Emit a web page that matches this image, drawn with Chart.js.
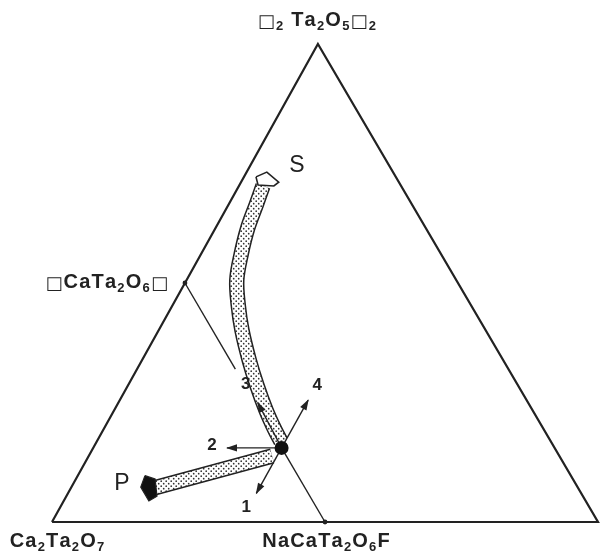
<!DOCTYPE html>
<html>
<head>
<meta charset="utf-8">
<script src="https://cdn.jsdelivr.net/npm/chart.js@4.4.0/dist/chart.umd.min.js"></script>
<style>
  html, body { margin: 0; padding: 0; background: #fff; overflow: hidden; }
  canvas { display: block; }
</style>
</head>
<body>
<canvas id="chart" width="600" height="554"></canvas>
<script>
// compositions are [Ca2Ta2O7, (right corner), □2Ta2O5□2] fractions
const corners = [[1, 0, 0], [0, 1, 0], [0, 0, 1], [1, 0, 0]]
const apexX = 0.487 // apex of the plate sits a little left of centre

const namedPoints = [[0.5, 0, 0.5], [0.5, 0.5, 0]]
const joinUpper = [[0.5, 0, 0.5], [0.5, 0.18, 0.32]]
const joinLower = [[0.5, 0.345, 0.155], [0.5, 0.5, 0]]
const bulk = [0.5, 0.345, 0.155]

const vectorNames = ['1', '2', '3', '4']
const vectorEnds = [[0.595, 0.345, 0.06], [0.6, 0.245, 0.155], [0.495, 0.255, 0.25], [0.4, 0.345, 0.255]]

const trendS = [
    [0.253, 0.044, 0.703], [0.286, 0.051, 0.663], [0.326, 0.059, 0.615], [0.367, 0.074, 0.559],
    [0.402, 0.092, 0.506], [0.426, 0.120, 0.454], [0.446, 0.152, 0.402], [0.465, 0.196, 0.339],
    [0.478, 0.236, 0.286], [0.488, 0.278, 0.234], [0.493, 0.315, 0.192], [0.494, 0.337, 0.169]
]
const capS = [[0.256, 0.022, 0.722], [0.231, 0.037, 0.732], [0.220, 0.069, 0.711], [0.233, 0.064, 0.703], [0.261, 0.034, 0.705], [0.256, 0.022, 0.722]]

const trendP = [[0.526, 0.336, 0.138], [0.777, 0.152, 0.071]]
const capP = [[0.780, 0.123, 0.097], [0.765, 0.145, 0.090], [0.780, 0.166, 0.054], [0.800, 0.156, 0.044], [0.800, 0.127, 0.073], [0.780, 0.123, 0.097]]

// "_" marks the next character as a subscript
const cornerNames = ['Ca_2Ta_2O_7', '□_2 Ta_2O_5□_2']
const midNames = ['□CaTa_2O_6□', 'NaCaTa_2O_6F']

const toXY = ([a, b, c]) => ({ x: b + c * apexX, y: c })

function makeStipple() {
    const p = document.createElement('canvas')
    p.width = 5; p.height = 5
    const g = p.getContext('2d')
    g.fillStyle = '#fff'
    g.fillRect(0, 0, 5, 5)
    g.fillStyle = '#333'
    g.beginPath(); g.arc(1.2, 1.2, 0.85, 0, Math.PI * 2); g.fill()
    g.beginPath(); g.arc(3.7, 3.7, 0.85, 0, Math.PI * 2); g.fill()
    return document.getElementById('chart').getContext('2d').createPattern(p, 'repeat')
}
const stipple = makeStipple()

const ink = '#222'

function path(points, extra) {
    return Object.assign({
        data: points.map(toXY),
        showLine: true,
        pointRadius: 0,
        borderColor: ink,
        borderWidth: 1.4,
        fill: false,
        clip: false,
        tension: 0
    }, extra)
}

// listed bottom to top
const layers = [
    path(corners, { borderWidth: 2.2, borderJoinStyle: 'miter' }),
    path(joinUpper),
    path(joinLower),
    path(trendS, { borderWidth: 15.5, tension: 0.35, borderJoinStyle: 'round' }),
    path(trendS, { borderWidth: 12.5, tension: 0.35, borderColor: stipple, borderJoinStyle: 'round' }),
    path(trendP, { borderWidth: 15.5 }),
    path(trendP, { borderWidth: 12.5, borderColor: stipple }),
    path(capS, { borderWidth: 1.6, fill: 'shape', backgroundColor: '#fff' }),
    path(capP, { borderWidth: 1.2, fill: 'shape', backgroundColor: '#111' }),
    ...vectorEnds.map(e => path([bulk, e], { arrow: true })),
    { data: namedPoints.map(toXY), pointRadius: 2.4, backgroundColor: ink, borderWidth: 0, clip: false },
    { data: [toXY(bulk)], pointRadius: 7, backgroundColor: '#111', borderWidth: 0, clip: false }
]
layers.forEach((d, i) => { d.order = layers.length - i })

const arrowHeads = {
    id: 'arrowHeads',
    afterDatasetsDraw(chart) {
        const c = chart.ctx
        chart.data.datasets.forEach((ds, i) => {
            if (!ds.arrow) return
            const pts = chart.getDatasetMeta(i).data
            const a = pts[0], b = pts[pts.length - 1]
            c.save()
            c.translate(b.x, b.y)
            c.rotate(Math.atan2(b.y - a.y, b.x - a.x))
            c.beginPath()
            c.moveTo(1, 0)
            c.lineTo(-10, -3.6)
            c.lineTo(-10, 3.6)
            c.closePath()
            c.fillStyle = ink
            c.fill()
            c.restore()
        })
    }
}

function drawRich(c, str, x, y, align, size) {
    const parts = []
    for (let i = 0; i < str.length; i++) {
        if (str[i] === '_') { parts.push({ t: str[i + 1], sub: true }); i++ }
        else parts.push({ t: str[i], sub: false })
    }
    const family = '"Liberation Sans", Arial, sans-serif'
    const fontOf = p => p.t === '□' ? `${Math.round(size * 0.9)}px "DejaVu Sans", sans-serif`
        : p.sub ? `bold ${Math.round(size * 0.66)}px ${family}` : `bold ${size}px ${family}`
    const gap = 1.2
    let w = 0
    parts.forEach(p => { c.font = fontOf(p); p.w = c.measureText(p.t).width; w += p.w + gap })
    w -= gap
    let cx = align === 'center' ? x - w / 2 : align === 'right' ? x - w : x
    c.textAlign = 'left'
    c.textBaseline = 'alphabetic'
    parts.forEach(p => {
        c.font = fontOf(p)
        c.fillText(p.t, cx, p.sub ? y + 4 : p.t === '□' ? y + 1 : y)
        cx += p.w + gap
    })
}

const labelsPlugin = {
    id: 'labels',
    afterDatasetsDraw(chart) {
        const c = chart.ctx
        const sx = chart.scales.x, sy = chart.scales.y
        const px = t => { const p = toXY(t); return [sx.getPixelForValue(p.x), sy.getPixelForValue(p.y)] }
        c.save()
        c.fillStyle = ink

        let [x, y] = px(corners[0])
        drawRich(c, cornerNames[0], x + 5, y + 25, 'center', 20);
        [x, y] = px(corners[2])
        drawRich(c, cornerNames[1], x - 1, y - 18, 'center', 20);
        [x, y] = px(namedPoints[0])
        drawRich(c, midNames[0], x - 17, y + 5, 'right', 20);
        [x, y] = px(namedPoints[1])
        drawRich(c, midNames[1], x + 1, y + 25, 'center', 20)

        c.textAlign = 'center'
        c.textBaseline = 'middle'
        c.font = 'bold 17px "Liberation Sans", Arial, sans-serif'
        const offs = [[-10, 14], [-15, -3], [-12, -18], [9, -15]]
        vectorEnds.forEach((e, i) => {
            const [ex, ey] = px(e)
            c.fillText(vectorNames[i], ex + offs[i][0], ey + offs[i][1])
        })

        c.font = '23px "Liberation Sans", Arial, sans-serif';
        [x, y] = px(trendP[trendP.length - 1])
        c.fillText('P', x - 32, y - 4);
        [x, y] = px(trendS[0])
        c.fillText('S', x + 34, y - 20)
        c.restore()
    }
}

new Chart(document.getElementById('chart'), {
    type: 'scatter',
    data: { datasets: layers },
    options: {
        responsive: false,
        animation: false,
        devicePixelRatio: 1,
        layout: { autoPadding: false, padding: { left: 52, right: 2, top: 44, bottom: 32 } },
        scales: {
            x: { type: 'linear', min: 0, max: 1, display: false },
            y: { type: 'linear', min: 0, max: 1, display: false }
        },
        plugins: { legend: { display: false }, tooltip: { enabled: false } }
    },
    plugins: [arrowHeads, labelsPlugin]
})
</script>
</body>
</html>
